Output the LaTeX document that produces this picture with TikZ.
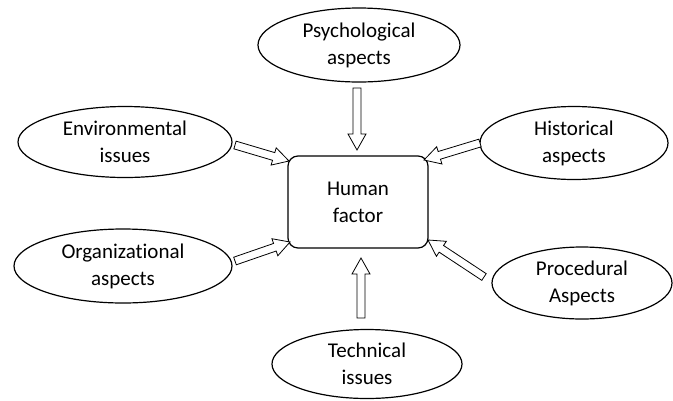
\documentclass[tikz,border=0pt]{standalone}
\usepackage{fontspec}
\setmainfont{Carlito}[Ligatures={NoCommon}]
\usetikzlibrary{shapes.geometric,calc}
\tikzset{
  oval/.style={draw, ellipse, line width=1.2pt, inner sep=0pt, align=center,
    font=\fontsize{21}{27}\selectfont},
  hbox/.style={draw, rounded corners=10pt, line width=1.2pt, align=center,
    font=\fontsize{21}{27}\selectfont},
  barrow/.style={draw, line width=0.8pt, fill=white, to path={
    ($(\tikztostart)!4pt!90:(\tikztotarget)$)
    -- ($($(\tikztotarget)!16pt!(\tikztostart)$)!4pt!90:(\tikztotarget)$)
    -- ($($(\tikztotarget)!16pt!(\tikztostart)$)!9pt!90:(\tikztotarget)$)
    -- (\tikztotarget)
    -- ($($(\tikztotarget)!16pt!(\tikztostart)$)!9pt!-90:(\tikztotarget)$)
    -- ($($(\tikztotarget)!16pt!(\tikztostart)$)!4pt!-90:(\tikztotarget)$)
    -- ($(\tikztostart)!4pt!-90:(\tikztotarget)$)
    -- cycle}}
}
\begin{document}
\begin{tikzpicture}[x=1pt,y=-1pt]
\useasboundingbox (0,0) rectangle (673,400);
\node[hbox, minimum width=140pt, minimum height=92pt] (hf) at (358,202) {Human\\factor};
\node[oval, minimum width=202pt, minimum height=74pt] (psy) at (359,45) {Psychological\\aspects};
\node[oval, minimum width=214pt, minimum height=71pt] (env) at (125,142) {Environmental\\issues};
\node[oval, minimum width=218pt, minimum height=74pt] (org) at (123,266) {Organizational\\aspects};
\node[oval, minimum width=188pt, minimum height=73pt] (his) at (574,143) {Historical\\aspects};
\node[oval, minimum width=180pt, minimum height=72pt] (pro) at (582,283) {Procedural\\Aspects};
\node[oval, minimum width=190pt, minimum height=69pt] (tec) at (367,364) {Technical\\issues};

\coordinate (psyA) at (357,88);  \coordinate (psyB) at (357,150);
\coordinate (tecA) at (361,318); \coordinate (tecB) at (361,258);
\coordinate (envA) at (235,145); \coordinate (envB) at (289,161);
\coordinate (orgA) at (235,261); \coordinate (orgB) at (290,242);
\coordinate (hisA) at (480,143); \coordinate (hisB) at (424,160);
\coordinate (proA) at (484,277); \coordinate (proB) at (428,240);

\draw[barrow] (psyA) to (psyB);
\draw[barrow] (tecA) to (tecB);
\draw[barrow] (envA) to (envB);
\draw[barrow] (orgA) to (orgB);
\draw[barrow] (hisA) to (hisB);
\draw[barrow] (proA) to (proB);
\end{tikzpicture}
\end{document}
